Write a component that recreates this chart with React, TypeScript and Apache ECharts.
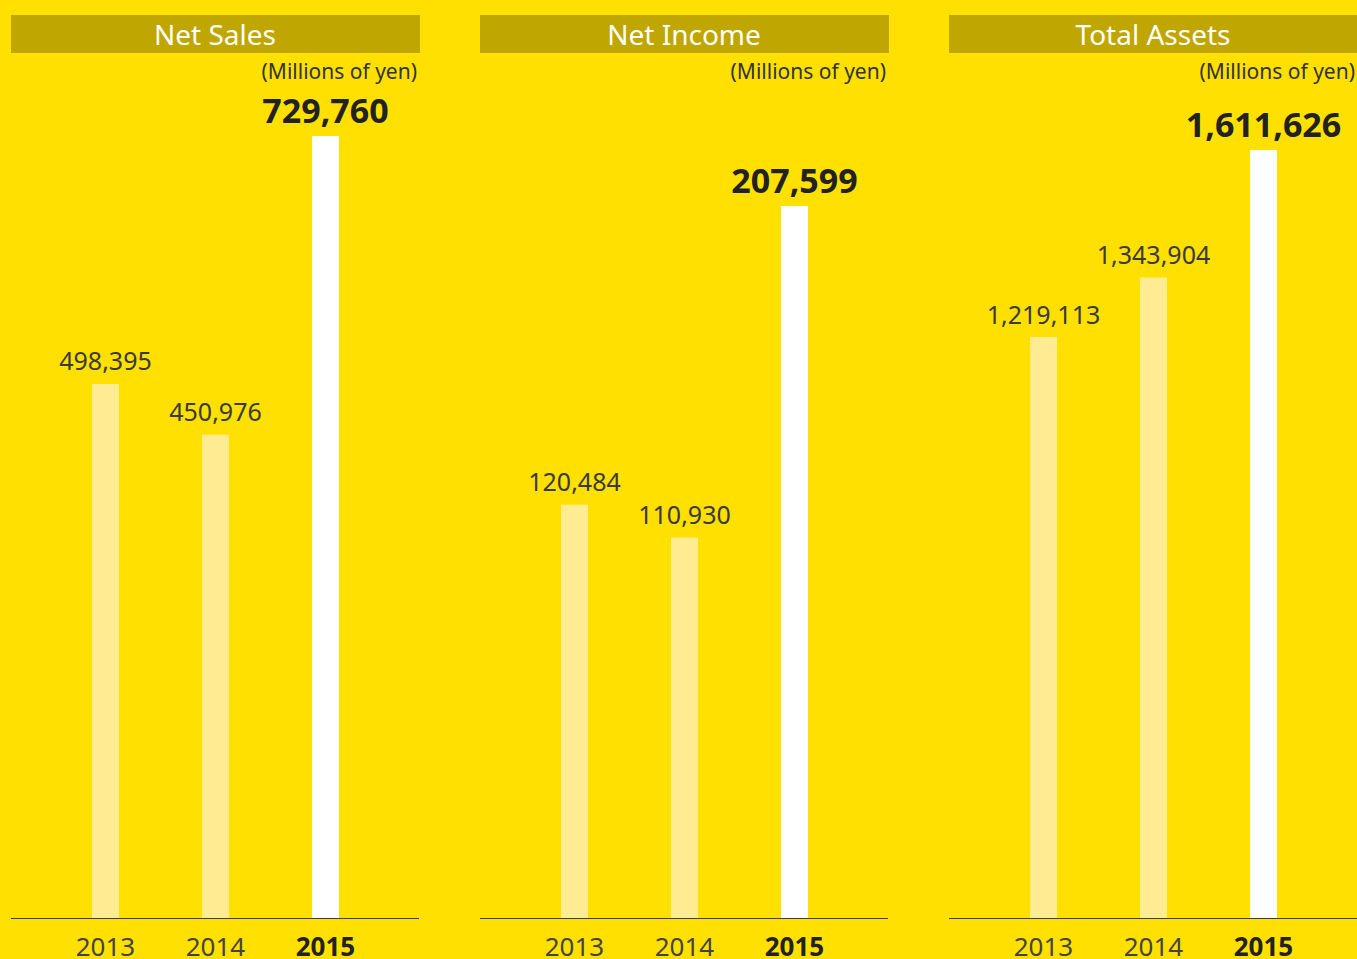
import React, { useEffect, useRef } from "react";
import * as echarts from "echarts";

const years = ["2013", "2014", "2015"];
const netSales = [498395, 450976, 729760];
const netIncome = [120484, 110930, 207599];
const totalAssets = [1219113, 1343904, 1611626];
const titles = ["Net Sales", "Net Income", "Total Assets"];
const unitLabel = "(Millions of yen)";

const FONT = "'Noto Sans', 'Open Sans', sans-serif";
const BG = "#FFE000";
const HEADER = "#C0A600";
const LIGHT_BAR = "#FFEB92";

export default function App() {
  const ref = useRef<HTMLDivElement>(null);
  useEffect(() => {
    if (!ref.current) return;
    const chart = echarts.init(ref.current, null, { renderer: "svg" });
    const all = [netSales, netIncome, totalAssets];
    const offsets = [0, 469, 938];
    const tops = [136, 206, 150];
    const fmt = (v: number) => v.toLocaleString("en-US");

    const grids = offsets.map((o, i) => ({
      left: 50.5 + o,
      width: 330,
      top: tops[i],
      bottom: 41,
      containLabel: false,
    }));
    const xAxes = offsets.map((o, i) => ({
      type: "category" as const,
      gridIndex: i,
      data: years,
      axisLine: { show: false },
      axisTick: { show: false },
      axisLabel: {
        margin: 15,
        formatter: (v: string) => (v === "2015" ? `{b|${v}}` : `{a|${v}}`),
        rich: {
          a: { fontFamily: FONT, fontSize: 26, color: "#444444" },
          b: { fontFamily: FONT, fontSize: 26, fontWeight: "bold", color: "#222222" },
        },
      },
    }));
    const yAxes = all.map((d, i) => ({
      type: "value" as const,
      gridIndex: i,
      min: 0,
      max: Math.max(...d),
      show: false,
    }));
    const series = all.map((d, i) => ({
      type: "bar" as const,
      xAxisIndex: i,
      yAxisIndex: i,
      barWidth: 27,
      data: d.map((v, j) => ({
        value: v,
        itemStyle: { color: j === 2 ? "#FFFFFF" : LIGHT_BAR },
        label: {
          show: true,
          position: "top" as const,
          distance: j === 2 ? 9 : 11,
          formatter: () => fmt(v),
          fontFamily: FONT,
          fontSize: j === 2 ? 34 : 25,
          fontWeight: j === 2 ? "bold" : "normal",
          color: j === 2 ? "#222222" : "#3a3a3a",
        },
      })),
    }));

    const graphic: any[] = [];
    offsets.forEach((o, i) => {
      graphic.push({
        type: "rect",
        left: 11 + o,
        top: 15,
        shape: { width: 409, height: 38 },
        style: { fill: HEADER },
      });
      graphic.push({
        type: "text",
        x: 215 + o,
        y: 34,
        style: {
          text: titles[i],
          fill: "#FFFFFF",
          font: `28px ${FONT}`,
          textAlign: "center",
          textVerticalAlign: "middle",
        },
      });
      graphic.push({
        type: "text",
        x: 417 + o,
        y: 71,
        style: {
          text: unitLabel,
          fill: "#333333",
          font: `21px ${FONT}`,
          textAlign: "right",
          textVerticalAlign: "middle",
        },
      });
      graphic.push({
        type: "line",
        shape: { x1: 11 + o, y1: 918.5, x2: 419 + o, y2: 918.5 },
        style: { stroke: "#3a3a3a", lineWidth: 1 },
      });
    });

    chart.setOption({
      animation: false,
      backgroundColor: BG,
      grid: grids,
      xAxis: xAxes,
      yAxis: yAxes,
      series,
      graphic,
    });
    return () => chart.dispose();
  }, []);
  return (
    <div
      ref={ref}
      style={{ position: "absolute", left: 0, top: 0, width: 1357, height: 959 }}
    />
  );
}
